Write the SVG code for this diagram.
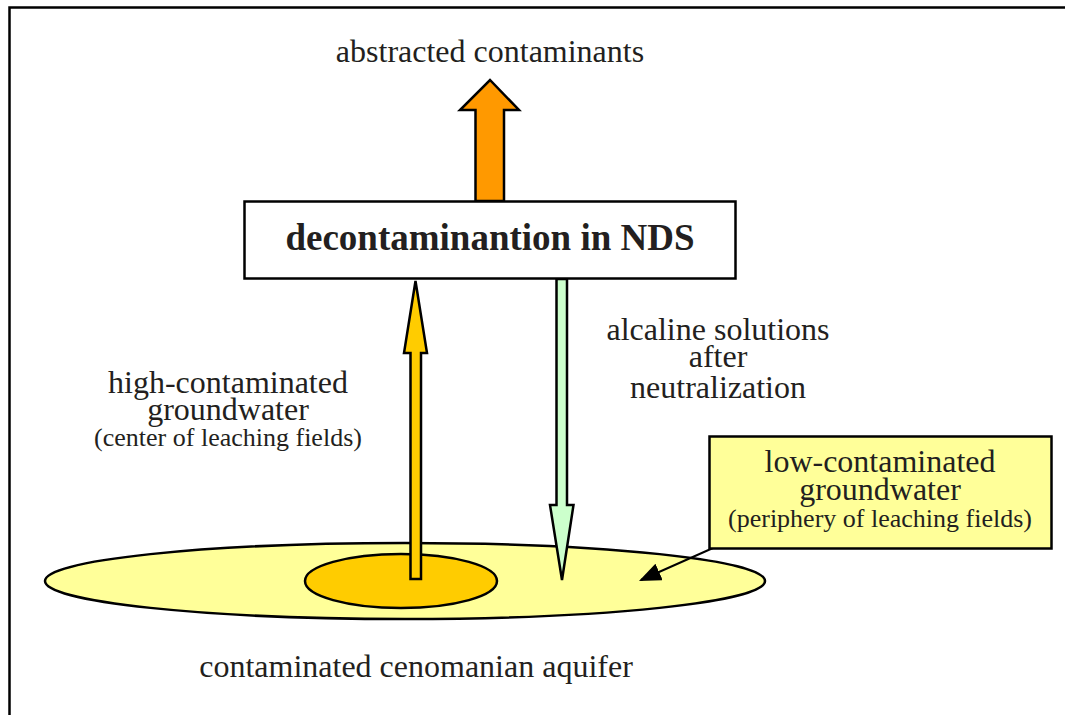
<svg xmlns="http://www.w3.org/2000/svg" width="1065" height="715" viewBox="0 0 1065 715">
<defs>
<style>
.t{font-family:"Liberation Serif","Times New Roman",serif;fill:#231f20;text-anchor:middle}
.m{font-size:32px}
.s{font-size:26px}
.b{font-size:37px;font-weight:bold}
.ln{stroke:#000;stroke-width:2.5;stroke-linejoin:miter}
</style>
<marker id="tri" viewBox="0 0 10 10" refX="9" refY="5" markerWidth="22" markerHeight="18" orient="auto" markerUnits="userSpaceOnUse" preserveAspectRatio="none">
<path d="M0,0 L10,5 L0,10 z" fill="#000"/>
</marker>
</defs>
<rect width="1065" height="715" fill="#fff"/>
<path d="M9.5,715 L9.5,7.5 L1065,7.5" fill="none" stroke="#000" stroke-width="2.5"/>

<g id="aquifer">
<ellipse cx="405" cy="581" rx="360" ry="38" fill="#ffff99" stroke="#000" stroke-width="2.5"/>
<ellipse cx="401" cy="581" rx="96" ry="27" fill="#ffcc00" stroke="#000" stroke-width="2.5"/>
<text class="t m" x="416" y="677">contaminated cenomanian aquifer</text>
</g>

<g id="connectors">
<polygon class="ln" points="475.5,201 475.5,110 460,110 490,80 519,110 504,110 504,201" fill="#ff9900"/>
<polygon class="ln" points="410.5,579 410.5,353 404,353 415.5,281 427,353 421,353 421,579" fill="#ffcc00"/>
<polygon class="ln" points="556.5,279 556.5,505 550,505 562,580 573.5,505 567,505 567,279" fill="#ccffcc"/>
<line x1="713" y1="548" x2="641" y2="580" stroke="#000" stroke-width="2" marker-end="url(#tri)"/>
</g>

<g id="abstracted">
<text class="t m" x="490" y="62">abstracted contaminants</text>
</g>

<g id="nds">
<rect x="244.5" y="201.5" width="491" height="77" fill="#fff" stroke="#000" stroke-width="2.5"/>
<text class="t b" x="490" y="250">decontaminantion in NDS</text>
</g>

<g id="high">
<text class="t m" x="228" y="393">high-contaminated</text>
<text class="t m" x="228" y="420">groundwater</text>
<text class="t s" x="228" y="446">(center of leaching fields)</text>
</g>

<g id="alcaline">
<text class="t m" x="718" y="340">alcaline solutions</text>
<text class="t m" x="718" y="367">after</text>
<text class="t m" x="718" y="398">neutralization</text>
</g>

<g id="low">
<rect x="709.5" y="436.5" width="342" height="112" fill="#ffff99" stroke="#000" stroke-width="2.5"/>
<text class="t m" x="880" y="472">low-contaminated</text>
<text class="t m" x="880" y="500">groundwater</text>
<text class="t s" x="880" y="527">(periphery of leaching fields)</text>
</g>
</svg>
